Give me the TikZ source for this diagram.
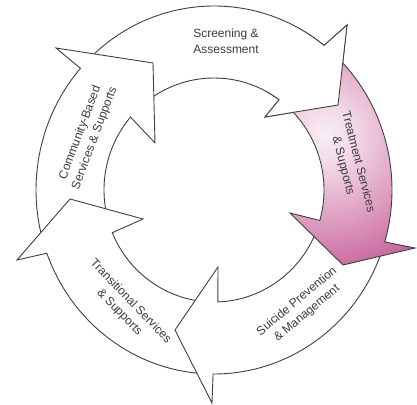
\documentclass[tikz,border=0pt]{standalone}
\usepackage{fontspec}
\setmainfont{Liberation Sans}

\definecolor{lineclr}{HTML}{404040}
\definecolor{ink}{HTML}{3C3C3C}
\definecolor{pkA}{HTML}{F9EEF4}
\definecolor{pkB}{HTML}{F2D8E6}
\definecolor{pkC}{HTML}{DC98BE}
\definecolor{pkD}{HTML}{C25A95}
\definecolor{pkE}{HTML}{A8286A}
\definecolor{pkF}{HTML}{9E2060}
% radial shade for the highlighted arrow; 50bp spans 200pt
\pgfdeclareradialshading{treatshade}{\pgfpointorigin}{color(0bp)=(pkA); color(3.75bp)=(pkB); color(11.25bp)=(pkC); color(18.75bp)=(pkD); color(25bp)=(pkE); color(31.25bp)=(pkF); color(50bp)=(pkF)}

\begin{document}
\begin{tikzpicture}[x=1pt,y=1pt,
  arrowshape/.style={draw=lineclr, line width=0.9pt, line join=miter, fill=white},
  outline/.style={draw=lineclr, line width=0.9pt, line join=miter},
  lbl/.style={text=ink, align=center, font=\fontsize{12}{15.5}\selectfont, inner sep=0pt}]
\useasboundingbox (0,0) rectangle (417,-404);

\begin{scope}[shift={(214,-190)}]
% Screening & Assessment (top)
\path[arrowshape] (136:178pt and 184pt)
  arc[start angle=136, end angle=51.8, x radius=178pt, y radius=184pt]
  -- (133,165) -- (124,85) -- (51,73) -- (53.7:110pt and 112pt)
  arc[start angle=53.7, end angle=136, x radius=110pt, y radius=112pt] -- cycle;

% Community-Based Services & Supports (upper left)
\path[arrowshape] (196:178pt and 184pt)
  arc[start angle=196, end angle=138.6, x radius=178pt, y radius=184pt]
  -- (-158,142) -- (-61,127) -- (-59,47) -- (139.4:110pt and 112pt)
  arc[start angle=139.4, end angle=196, x radius=110pt, y radius=112pt] -- cycle;

% Transitional Services & Supports (lower left)
\path[arrowshape] (267.5:178pt and 184pt)
  arc[start angle=267.5, end angle=200.1, x radius=178pt, y radius=184pt]
  -- (-197,-70) -- (-144,-9) -- (-71,-29) -- (202.4:110pt and 112pt)
  arc[start angle=202.4, end angle=267.5, x radius=110pt, y radius=112pt] -- cycle;

% Suicide Prevention & Management (lower right)
\path[arrowshape] (-19:178pt and 184pt)
  arc[start angle=-19, end angle=-90.3, x radius=178pt, y radius=184pt]
  -- (-2,-213) -- (-39,-140) -- (4,-77) -- (-88:110pt and 112pt)
  arc[start angle=-88, end angle=-19, x radius=110pt, y radius=112pt] -- cycle;

% Treatment Services & Supports (right, highlighted)
\begin{scope}
  \clip (48:178pt and 184pt)
    arc[start angle=48, end angle=-16.4, x radius=178pt, y radius=184pt]
    -- (201,-58) -- (129,-75) -- (76,-23) -- (-15.8:110pt and 112pt)
    arc[start angle=-15.8, end angle=48, x radius=110pt, y radius=112pt] -- cycle;
  \shade[shading=treatshade] (111,55) circle (200pt);
\end{scope}
\path[outline] (48:178pt and 184pt)
  arc[start angle=48, end angle=-16.4, x radius=178pt, y radius=184pt]
  -- (201,-58) -- (129,-75) -- (76,-23) -- (-15.8:110pt and 112pt)
  arc[start angle=-15.8, end angle=48, x radius=110pt, y radius=112pt] -- cycle;

% head of the Screening arrow lies over the tail of the Treatment arrow
\fill[white] (62:178pt and 184pt)
  arc[start angle=62, end angle=51.8, x radius=178pt, y radius=184pt]
  -- (133,165) -- (124,85) -- (51,73) -- (53.7:110pt and 112pt)
  arc[start angle=53.7, end angle=62, x radius=110pt, y radius=112pt] -- cycle;
\path[outline] (62:178pt and 184pt)
  arc[start angle=62, end angle=51.8, x radius=178pt, y radius=184pt]
  -- (133,165) -- (124,85) -- (51,73) -- (53.7:110pt and 112pt)
  arc[start angle=53.7, end angle=62, x radius=110pt, y radius=112pt];

% labels
\node[lbl] (screening) at (12,149) {Screening \&\\Assessment};
\node[lbl, rotate=-75.5] (treatment) at (136.5,26) {Treatment Services\\\& Supports};
\node[lbl, rotate=40] (suicide) at (88,-117.5) {Suicide Prevention\\\& Management};
\node[lbl, rotate=-46] (transitional) at (-89,-117) {Transitional Services\\\& Supports};
\node[lbl, rotate=69.5] (community) at (-126.5,54.5) {Community-Based\\Services \& Supports};
\end{scope}
\end{tikzpicture}
\end{document}
